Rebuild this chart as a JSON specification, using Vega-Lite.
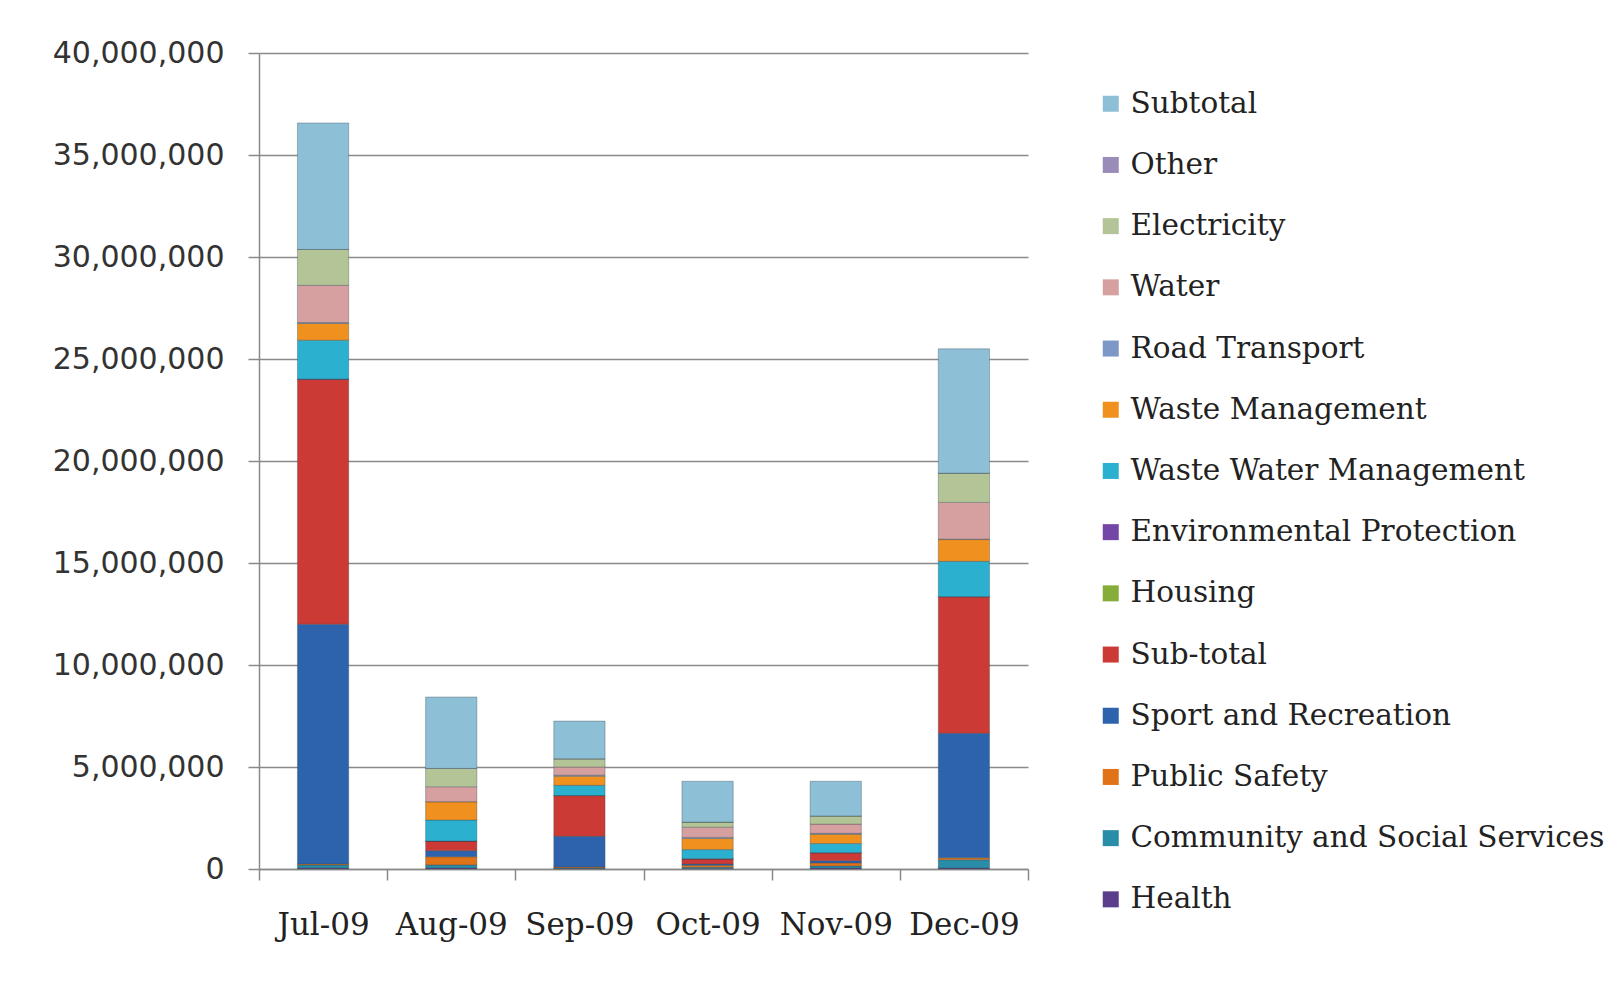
{
  "$schema": "https://vega.github.io/schema/vega-lite/v6.json",
  "autosize": {"type": "none"},
  "padding": {"left": 259, "top": 53, "right": 592, "bottom": 117},
  "width": 769,
  "height": 816,
  "background": "white",
  "config": {"view": {"stroke": null}},
  "data": {
    "values": [
      {"m":"Jul-09","s":"Health","i":1,"v":50000},
      {"m":"Jul-09","s":"Community and Social Services","i":2,"v":150000},
      {"m":"Jul-09","s":"Public Safety","i":3,"v":50000},
      {"m":"Jul-09","s":"Sport and Recreation","i":4,"v":11750000},
      {"m":"Jul-09","s":"Sub-total","i":5,"v":12000000},
      {"m":"Jul-09","s":"Housing","i":6,"v":0},
      {"m":"Jul-09","s":"Environmental Protection","i":7,"v":20000},
      {"m":"Jul-09","s":"Waste Water Management","i":8,"v":1900000},
      {"m":"Jul-09","s":"Waste Management","i":9,"v":820000},
      {"m":"Jul-09","s":"Road Transport","i":10,"v":50000},
      {"m":"Jul-09","s":"Water","i":11,"v":1820000},
      {"m":"Jul-09","s":"Electricity","i":12,"v":1760000},
      {"m":"Jul-09","s":"Other","i":13,"v":0},
      {"m":"Jul-09","s":"Subtotal","i":14,"v":6200000},

      {"m":"Aug-09","s":"Health","i":1,"v":50000},
      {"m":"Aug-09","s":"Community and Social Services","i":2,"v":150000},
      {"m":"Aug-09","s":"Public Safety","i":3,"v":400000},
      {"m":"Aug-09","s":"Sport and Recreation","i":4,"v":300000},
      {"m":"Aug-09","s":"Sub-total","i":5,"v":470000},
      {"m":"Aug-09","s":"Housing","i":6,"v":0},
      {"m":"Aug-09","s":"Environmental Protection","i":7,"v":0},
      {"m":"Aug-09","s":"Waste Water Management","i":8,"v":1030000},
      {"m":"Aug-09","s":"Waste Management","i":9,"v":900000},
      {"m":"Aug-09","s":"Road Transport","i":10,"v":0},
      {"m":"Aug-09","s":"Water","i":11,"v":730000},
      {"m":"Aug-09","s":"Electricity","i":12,"v":900000},
      {"m":"Aug-09","s":"Other","i":13,"v":0},
      {"m":"Aug-09","s":"Subtotal","i":14,"v":3500000},

      {"m":"Sep-09","s":"Health","i":1,"v":20000},
      {"m":"Sep-09","s":"Community and Social Services","i":2,"v":30000},
      {"m":"Sep-09","s":"Public Safety","i":3,"v":50000},
      {"m":"Sep-09","s":"Sport and Recreation","i":4,"v":1500000},
      {"m":"Sep-09","s":"Sub-total","i":5,"v":2000000},
      {"m":"Sep-09","s":"Housing","i":6,"v":0},
      {"m":"Sep-09","s":"Environmental Protection","i":7,"v":0},
      {"m":"Sep-09","s":"Waste Water Management","i":8,"v":500000},
      {"m":"Sep-09","s":"Waste Management","i":9,"v":450000},
      {"m":"Sep-09","s":"Road Transport","i":10,"v":50000},
      {"m":"Sep-09","s":"Water","i":11,"v":400000},
      {"m":"Sep-09","s":"Electricity","i":12,"v":400000},
      {"m":"Sep-09","s":"Other","i":13,"v":0},
      {"m":"Sep-09","s":"Subtotal","i":14,"v":1850000},

      {"m":"Oct-09","s":"Health","i":1,"v":30000},
      {"m":"Oct-09","s":"Community and Social Services","i":2,"v":50000},
      {"m":"Oct-09","s":"Public Safety","i":3,"v":100000},
      {"m":"Oct-09","s":"Sport and Recreation","i":4,"v":70000},
      {"m":"Oct-09","s":"Sub-total","i":5,"v":250000},
      {"m":"Oct-09","s":"Housing","i":6,"v":0},
      {"m":"Oct-09","s":"Environmental Protection","i":7,"v":0},
      {"m":"Oct-09","s":"Waste Water Management","i":8,"v":450000},
      {"m":"Oct-09","s":"Waste Management","i":9,"v":550000},
      {"m":"Oct-09","s":"Road Transport","i":10,"v":50000},
      {"m":"Oct-09","s":"Water","i":11,"v":500000},
      {"m":"Oct-09","s":"Electricity","i":12,"v":250000},
      {"m":"Oct-09","s":"Other","i":13,"v":0},
      {"m":"Oct-09","s":"Subtotal","i":14,"v":2000000},

      {"m":"Nov-09","s":"Health","i":1,"v":50000},
      {"m":"Nov-09","s":"Community and Social Services","i":2,"v":100000},
      {"m":"Nov-09","s":"Public Safety","i":3,"v":150000},
      {"m":"Nov-09","s":"Sport and Recreation","i":4,"v":100000},
      {"m":"Nov-09","s":"Sub-total","i":5,"v":400000},
      {"m":"Nov-09","s":"Housing","i":6,"v":0},
      {"m":"Nov-09","s":"Environmental Protection","i":7,"v":0},
      {"m":"Nov-09","s":"Waste Water Management","i":8,"v":450000},
      {"m":"Nov-09","s":"Waste Management","i":9,"v":450000},
      {"m":"Nov-09","s":"Road Transport","i":10,"v":50000},
      {"m":"Nov-09","s":"Water","i":11,"v":450000},
      {"m":"Nov-09","s":"Electricity","i":12,"v":400000},
      {"m":"Nov-09","s":"Other","i":13,"v":0},
      {"m":"Nov-09","s":"Subtotal","i":14,"v":1700000},

      {"m":"Dec-09","s":"Health","i":1,"v":50000},
      {"m":"Dec-09","s":"Community and Social Services","i":2,"v":400000},
      {"m":"Dec-09","s":"Public Safety","i":3,"v":100000},
      {"m":"Dec-09","s":"Sport and Recreation","i":4,"v":6100000},
      {"m":"Dec-09","s":"Sub-total","i":5,"v":6700000},
      {"m":"Dec-09","s":"Housing","i":6,"v":0},
      {"m":"Dec-09","s":"Environmental Protection","i":7,"v":0},
      {"m":"Dec-09","s":"Waste Water Management","i":8,"v":1730000},
      {"m":"Dec-09","s":"Waste Management","i":9,"v":1070000},
      {"m":"Dec-09","s":"Road Transport","i":10,"v":20000},
      {"m":"Dec-09","s":"Water","i":11,"v":1800000},
      {"m":"Dec-09","s":"Electricity","i":12,"v":1430000},
      {"m":"Dec-09","s":"Other","i":13,"v":0},
      {"m":"Dec-09","s":"Subtotal","i":14,"v":6100000}
    ]
  },
  "mark": {"type": "bar", "width": {"band": 0.4}, "stroke": "#3d4a55", "strokeWidth": 0.6, "strokeOpacity": 0.6},
  "encoding": {
    "x": {
      "field": "m",
      "type": "nominal",
      "sort": ["Jul-09","Aug-09","Sep-09","Oct-09","Nov-09","Dec-09"],
      "scale": {"paddingInner": 0, "paddingOuter": 0},
      "axis": {
        "title": null,
        "labelAngle": 0,
        "labelFont": "DejaVu Serif",
        "labelFontSize": 31,
        "labelColor": "#222222",
        "labelPadding": 30,
        "tickBand": "extent",
        "tickSize": 11,
        "tickColor": "#8a8a8a",
        "tickWidth": 1.5,
        "domainColor": "#8a8a8a",
        "domainWidth": 1.5
      }
    },
    "y": {
      "field": "v",
      "type": "quantitative",
      "stack": "zero",
      "scale": {"domain": [0, 40000000], "nice": false},
      "axis": {
        "title": null,
        "values": [0,5000000,10000000,15000000,20000000,25000000,30000000,35000000,40000000],
        "format": ",d",
        "labelFont": "DejaVu Sans",
        "labelFontSize": 30,
        "labelColor": "#333333",
        "labelPadding": 24,
        "tickSize": 11,
        "tickColor": "#8a8a8a",
        "tickWidth": 1.5,
        "domainColor": "#8a8a8a",
        "domainWidth": 1.5,
        "gridColor": "#8a8a8a",
        "gridWidth": 1.5
      }
    },
    "color": {
      "field": "s",
      "type": "nominal",
      "scale": {
        "domain": ["Subtotal","Other","Electricity","Water","Road Transport","Waste Management","Waste Water Management","Environmental Protection","Housing","Sub-total","Sport and Recreation","Public Safety","Community and Social Services","Health"],
        "range": ["#8dbfd6","#9b8bb9","#b3c596","#d6a0a0","#7d97c6","#f0901e","#2bb0d0","#7446a6","#86ad3a","#cc3a35","#2d63ad","#e07318","#2a8da8","#5b3f8c"]
      },
      "legend": {
        "title": null,
        "orient": "none",
        "legendX": 837,
        "legendY": 36,
        "padding": 0,
        "symbolType": "square",
        "symbolSize": 256,
        "symbolStrokeWidth": 0,
        "labelFont": "DejaVu Serif",
        "labelFontSize": 29.5,
        "labelColor": "#222222",
        "labelOffset": 5,
        "labelLimit": 600,
        "rowPadding": 30.2
      }
    },
    "order": {"field": "i", "type": "quantitative", "sort": "ascending"}
  }
}
